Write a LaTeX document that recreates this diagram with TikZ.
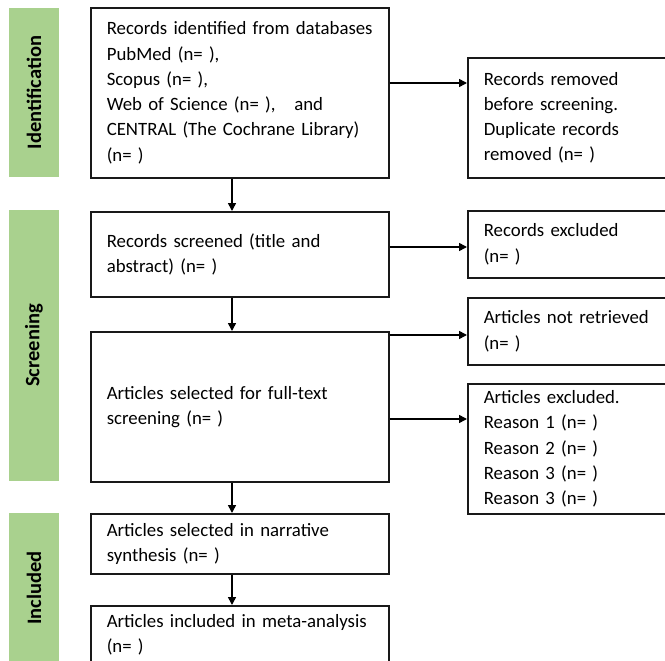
\documentclass[tikz,border=0pt]{standalone}
\usepackage{fontspec}
\setmainfont{Carlito}
\usepackage{tikz}
\usetikzlibrary{arrows.meta, positioning}
\definecolor{stagegreen}{RGB}{169,209,142}
\colorlet{boxline}{black!90}

\begin{document}
\begin{tikzpicture}[x=1pt, y=-1pt, >={Triangle[length=8pt, width=8pt]},
    every node/.style={font=\fontsize{18.8}{25.3}\selectfont},
    flowbox/.style={draw=boxline, line width=1.6pt, anchor=north west, align=left,
      text width=#1, inner xsep=16pt, inner ysep=0pt},
    stagebar/.style={fill=stagegreen, rotate=90, minimum width=#1, minimum height=50pt,
      inner sep=0pt, font=\fontsize{20.5}{22}\selectfont\bfseries},
    arr/.style={->, line width=1.6pt}]
    \useasboundingbox (0,0) rectangle (665,661);
    \clip (0,0) rectangle (665,661);

    % Stage bars
    \node[stagebar=169] (idstage) at (34,92.5) {Identification};
    \node[stagebar=271] (scrstage) at (34,345.5) {Screening};
    \node[stagebar=150] (incstage) at (34,588) {Included};

    % Main column
    \node[flowbox=266, minimum height=170] (idbox) at (90,7)
      {\mbox{Records identified from databases}\\PubMed (n= ),\\Scopus (n= ),\\Web of Science (n= ),~~~and\\\mbox{CENTRAL (The Cochrane Library)}\\(n= )};
    \node[flowbox=266, minimum height=85] (scrbox) at (90,211)
      {Records screened (title and\\abstract) (n= )};
    \node[flowbox=266, minimum height=150] (ftbox) at (90,331)
      {Articles selected for full-text\\screening (n= )};
    \node[flowbox=266, minimum height=60] (narbox) at (90,513)
      {Articles selected in narrative\\synthesis (n= )};
    \node[flowbox=266, minimum height=58] (metabox) at (90,605)
      {\mbox{Articles included in meta-analysis}\\(n= )};

    % Side column
    \node[flowbox=200, minimum height=120] (rmvbox) at (467,57)
      {Records removed\\before screening.\\Duplicate records\\removed (n= )};
    \node[flowbox=200, minimum height=67] (exclbox) at (467,210)
      {Records excluded\\(n= )};
    \node[flowbox=200, minimum height=67] (nrbox) at (467,297)
      {Articles not retrieved\\(n= )};
    \node[flowbox=200, minimum height=130] (reasbox) at (467,383)
      {Articles excluded.\\Reason 1 (n= )\\Reason 2 (n= )\\Reason 3 (n= )\\Reason 3 (n= )};

    % Arrows down
    \coordinate (spine) at (232,0);
    \draw[arr] (idbox.south -| spine) -- (scrbox.north -| spine);
    \draw[arr] (scrbox.south -| spine) -- (ftbox.north -| spine);
    \draw[arr] (ftbox.south -| spine) -- (narbox.north -| spine);
    \draw[arr] (narbox.south -| spine) -- (metabox.north -| spine);

    % Arrows right
    \draw[arr] (idbox.east |- 0,83) -- (rmvbox.west |- 0,83);
    \draw[arr] (scrbox.east |- 0,247) -- (exclbox.west |- 0,247);
    \draw[arr] (ftbox.east |- 0,335) -- (nrbox.west |- 0,335);
    \draw[arr] (ftbox.east |- 0,419) -- (reasbox.west |- 0,419);
  \end{tikzpicture}
\end{document}
